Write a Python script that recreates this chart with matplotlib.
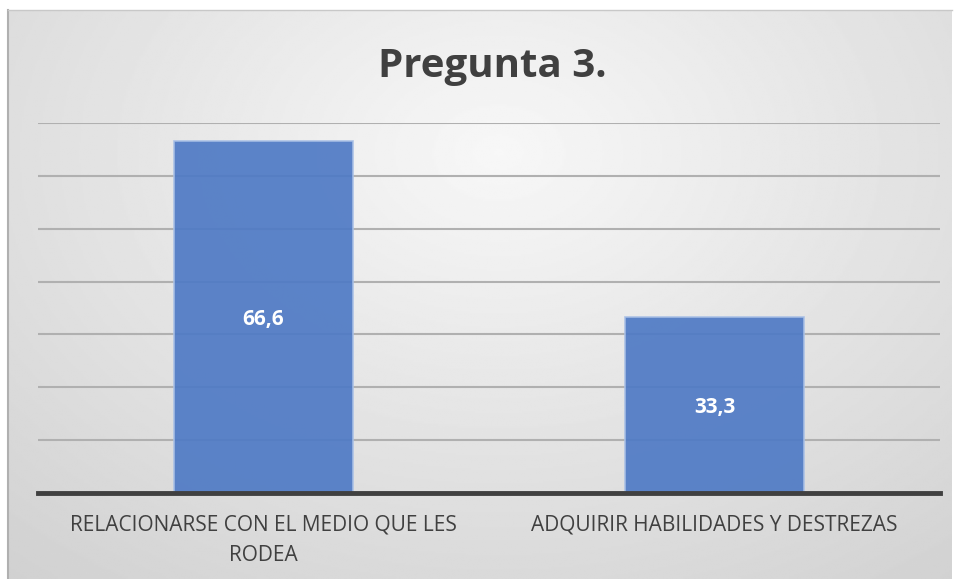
import matplotlib
matplotlib.use("Agg")
import matplotlib.pyplot as plt
import numpy as np

# data
categories = ["RELACIONARSE CON EL MEDIO QUE LES\nRODEA", "ADQUIRIR HABILIDADES Y DESTREZAS"]
values = [66.6, 33.3]
value_labels = ["66,6", "33,3"]
title = "Pregunta 3."

fig = plt.figure(figsize=(9.57, 5.79), dpi=100)
fig.patch.set_facecolor("white")

# radial gray background of the chart area
bg = fig.add_axes([8/957, 0, 944/957, 569/579], zorder=-5)
yy, xx = np.mgrid[0:1:300j, 0:1:500j]
r = np.sqrt(((xx - 0.52) / 0.75) ** 2 + ((yy - 0.25) / 0.9) ** 2)
shade = 0.97 - 0.14 * np.clip(r, 0, 1.2)
bg.imshow(shade, cmap="gray", vmin=0, vmax=1, aspect="auto", extent=[0, 1, 1, 0])
bg.set_xlim(0, 1)
bg.set_ylim(1, 0)
bg.axis("off")
fig.add_artist(plt.Line2D([8/957, 8/957], [0, 569/579], color="#B0B0B0", lw=1.5))
fig.add_artist(plt.Line2D([8/957, 952/957], [569/579, 569/579], color="#C8C8C8", lw=1))

ax = fig.add_axes([38/957, 86/579, 902/957, 370/579])
ax.patch.set_alpha(0)
x = np.arange(len(categories))
ax.set_xlim(-0.5, len(categories) - 0.5)
ax.set_ylim(0, 70)
ax.set_yticks(np.arange(0, 71, 10))
ax.yaxis.grid(True, color="#B0B0B0", lw=1.5, zorder=1)
ax.set_axisbelow(True)
ax.tick_params(axis="y", left=False, labelleft=False)
ax.tick_params(axis="x", bottom=False, pad=12)
for s in ("left", "right", "top"):
    ax.spines[s].set_visible(False)
ax.spines["bottom"].set_color("#404040")
ax.spines["bottom"].set_linewidth(3.5)
ax.spines["bottom"].set_zorder(5)

bars = ax.bar(x, values, width=0.395, color="#4F7AC5", alpha=0.92,
              edgecolor="#A9C0E6", lw=1.2, zorder=2)
for b, lab in zip(bars, value_labels):
    ax.text(b.get_x() + b.get_width() / 2, b.get_height() / 2 - 0.5, lab,
            ha="center", va="center", color="white", fontsize=15, fontweight="bold",
            fontfamily="Open Sans", zorder=6)

ax.set_xticks(x)
ax.set_xticklabels(categories, fontsize=15, color="#404040", fontfamily="Open Sans",
                   linespacing=1.6, va="top")

fig.text(492/957, 1 - 66/579, title, ha="center", va="center", fontsize=29,
         fontweight="bold", color="#404040", fontfamily="Open Sans")

fig.savefig("out.png", dpi=100)
